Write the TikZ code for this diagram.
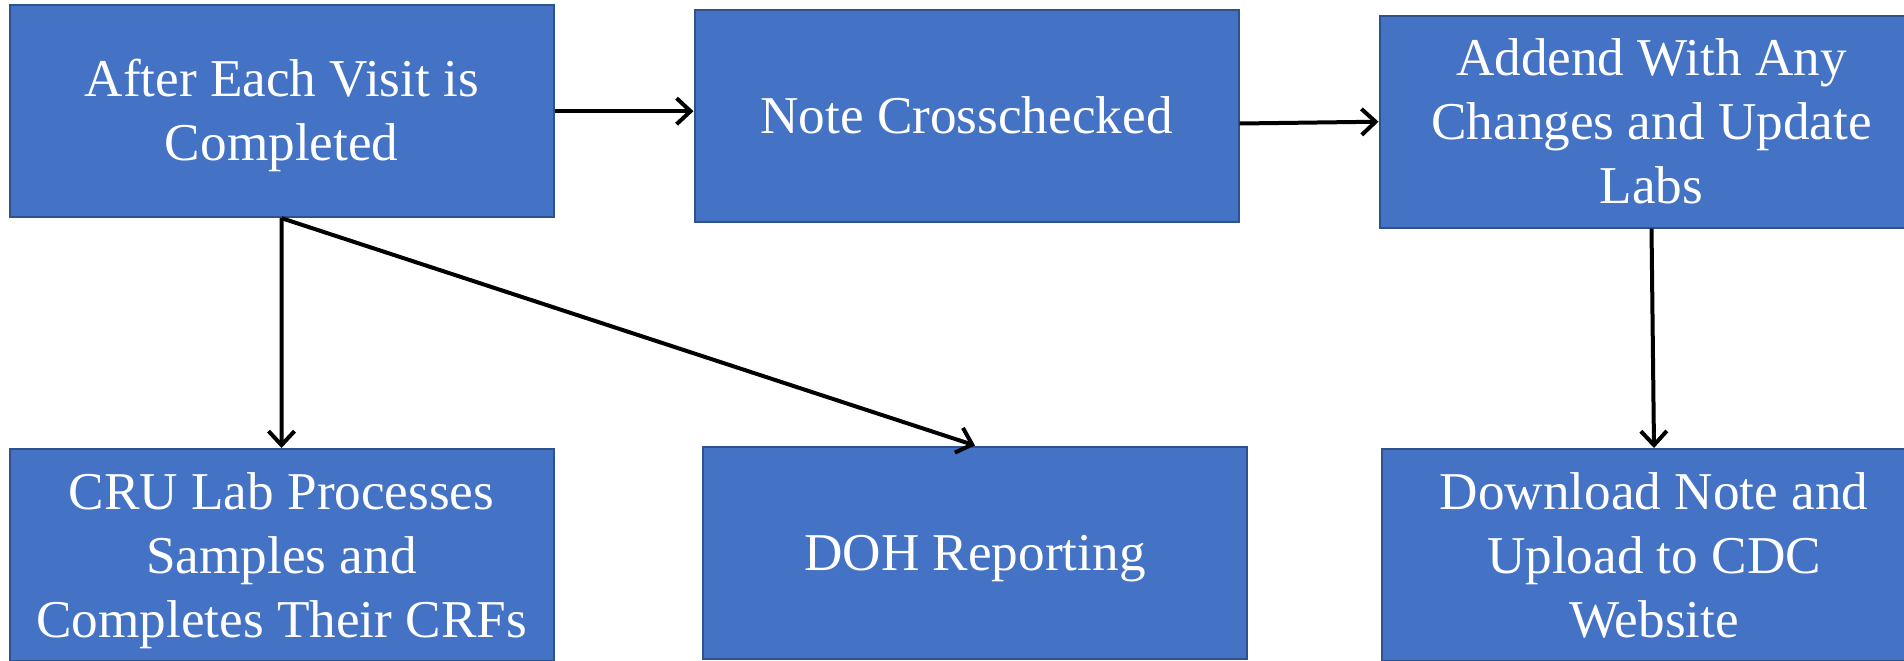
\documentclass[tikz,border=0pt]{standalone}
\usepackage{fontspec}
\setmainfont{Liberation Serif}
\usetikzlibrary{arrows.meta,calc}
\definecolor{boxfill}{HTML}{4472C4}
\definecolor{boxline}{HTML}{2F528F}
\newcommand{\firstlift}[1]{\rule{0pt}{#1}}
\tikzset{
  flowbox/.style={rectangle, fill=boxfill, draw=boxline, line width=1pt,
    minimum width=272pt, minimum height=106pt, inner sep=0pt, text=white,
    align=center, font=\fontsize{26.6}{32}\selectfont},
  flowarrow/.style={draw=black, line width=2pt,
    -{Straight Barb[length=7pt,width=13pt,line width=2pt]}}
}
\begin{document}
\begin{tikzpicture}[x=0.5pt,y=-0.5pt]
\useasboundingbox (0,0) rectangle (1904,660);
\clip (0,0) rectangle (1904,660);
\fill[white] (0,0) rectangle (1904,660);
\node[flowbox] (b1) at (281.7,111.2) {\firstlift{23.2pt}After Each Visit is\\Completed};
\node[flowbox] (b2) at (966.5,115.5) {Note Crosschecked};
\node[flowbox] (b3) at (1651.5,121.7) {Addend With Any\\Changes and Update\\Labs};
\node[flowbox] (b4) at (281.5,555) {\firstlift{24.2pt}CRU Lab Processes\\Samples and\\Completes Their CRFs};
\node[flowbox] (b5) at (975,552.5) {\firstlift{24.0pt}DOH Reporting};
\node[flowbox] (b6) at (1654,555) {Download Note and\\Upload to CDC\\Website};
\coordinate (a2s) at ($(b2.east)+(0,8)$);
\draw[flowarrow] (b1.east) -- (b1.east -| b2.west);
\draw[flowarrow] (a2s) -- (b3.west);
\draw[flowarrow] (b1.south) -- (b4.north);
\draw[flowarrow] (b1.south) -- (b5.north);
\draw[flowarrow] (b3.south) -- (b6.north);
\end{tikzpicture}
\end{document}
